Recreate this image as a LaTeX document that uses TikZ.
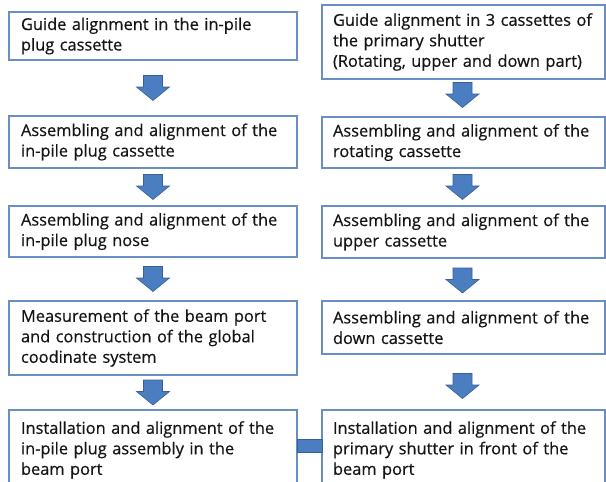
\documentclass[tikz,border=0pt]{standalone}
\usepackage{fontspec}
\setmainfont{Open Sans}[FakeBold=0.4]
\usetikzlibrary{calc}
\definecolor{boxline}{RGB}{105,142,195}
\definecolor{arrowfill}{RGB}{74,126,192}
\definecolor{arrowline}{RGB}{56,96,150}
\definecolor{txt}{RGB}{20,20,20}
\tikzset{
 stepbox/.style={draw=boxline, line width=1.2pt, fill=white, rectangle, anchor=north west,
   inner ysep=0pt, outer sep=0pt, align=left, font=\fontsize{16.4}{20.5}\selectfont, text=txt},
 leftbox/.style={stepbox, inner xsep=12pt, text width=264pt, minimum width=288pt},
 rightbox/.style={stepbox, inner xsep=11pt, text width=261pt, minimum width=283pt},
 darrow/.pic={\filldraw[fill=arrowfill, draw=arrowline, line width=0.6pt]
   (-9.5,-12.5) -- (9.5,-12.5) -- (9.5,-1) -- (16.5,-1) -- (0,12.5) -- (-16.5,-1) -- (-9.5,-1) -- cycle;}
}
\begin{document}
\begin{tikzpicture}[x=1pt,y=-1pt]
\useasboundingbox (0,0) rectangle (606,482);
\clip (0,0) rectangle (606,482);
\fill[white] (0,0) rectangle (606,482);
% left column
\node[leftbox, minimum height=48pt] (l1) at (9,12) {\mbox{Guide alignment in the in-pile}\\\mbox{plug cassette}};
\node[leftbox, minimum height=52pt] (l2) at (9,116) {\mbox{Assembling and alignment of the}\\\mbox{in-pile plug cassette}};
\node[leftbox, minimum height=51pt] (l3) at (9,206) {\mbox{Assembling and alignment of the}\\\mbox{in-pile plug nose}};
\node[leftbox, minimum height=74pt] (l4) at (9,301) {\mbox{Measurement of the beam port}\\\mbox{and construction of the global}\\\mbox{coodinate system}};
\node[leftbox, minimum height=80pt] (l5) at (9,410) {\mbox{Installation and alignment of the}\\\mbox{in-pile plug assembly in the}\\\mbox{beam port}};
% right column
\node[rightbox, minimum height=74pt] (r1) at (322,5) {\mbox{Guide alignment in 3 cassettes of}\\\mbox{the primary shutter}\\\mbox{(Rotating, upper and down part)}};
\node[rightbox, minimum height=51pt] (r2) at (322,117) {\mbox{Assembling and alignment of the}\\\mbox{rotating cassette}};
\node[rightbox, minimum height=52pt] (r3) at (322,206) {\mbox{Assembling and alignment of the}\\\mbox{upper cassette}};
\node[rightbox, minimum height=53pt] (r4) at (322,301) {\mbox{Assembling and alignment of the}\\\mbox{down cassette}};
\node[rightbox, minimum height=80pt] (r5) at (322,410) {\mbox{Installation and alignment of the}\\\mbox{primary shutter in front of the}\\\mbox{beam port}};
% arrows
\pic at ($(l1.south)!0.5!(l2.north)$) {darrow};
\pic at ($(l2.south)!0.5!(l3.north)$) {darrow};
\pic at ($(l3.south)!0.5!(l4.north)$) {darrow};
\pic at ($(l4.south)!0.5!(l5.north)$) {darrow};
\pic at ($(r1.south)!0.5!(r2.north)+(-1,-3)$) {darrow};
\pic at ($(r2.south)!0.5!(r3.north)+(-1,0)$) {darrow};
\pic at ($(r3.south)!0.5!(r4.north)+(-1,1)$) {darrow};
\pic at ($(r4.south)!0.5!(r5.north)+(-1,4)$) {darrow};
% link bar
\filldraw[fill=arrowfill, draw=arrowline, line width=0.6pt] ([yshift=11pt]l5.east) rectangle ([yshift=-2pt]r5.west);
\end{tikzpicture}
\end{document}
